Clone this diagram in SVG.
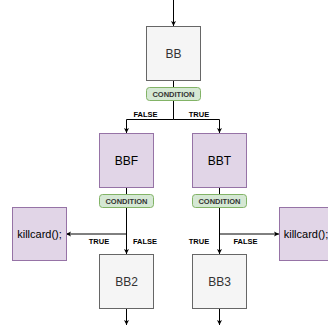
<svg xmlns="http://www.w3.org/2000/svg" width="328" height="325" viewBox="0 0 328 325">
<defs>
<marker id="arr" markerWidth="6" markerHeight="6" refX="5" refY="3" orient="auto" markerUnits="userSpaceOnUse">
<path d="M0,0.5 L5,3 L0,5.5 L1.2,3 Z" fill="#000"/>
</marker>
<style>
.gray{fill:#f5f5f5;stroke:#666666;stroke-width:1}
.purple{fill:#e1d5e7;stroke:#9673a6;stroke-width:1}
.cond{fill:#d5e8d4;stroke:#82b366;stroke-width:1}
.big{font-family:"Liberation Sans",Arial,sans-serif;font-size:12px;text-anchor:middle}
.gtxt{fill:#333333}
.lbl{font-family:"Liberation Sans",Arial,sans-serif;font-size:7.5px;font-weight:bold;text-anchor:middle;fill:#000}
.ctxt{font-family:"Liberation Sans",Arial,sans-serif;font-size:7.5px;font-weight:bold;text-anchor:middle;fill:#333333}
.edge{fill:none;stroke:#000;stroke-width:1}
.arrow{marker-end:url(#arr)}
</style>
</defs>
<g id="connectors">
<path class="edge arrow" d="M173.5,0 L173.5,26"/>
<path class="edge" d="M173.5,80 L173.5,119.5"/>
<path class="edge arrow" d="M173.5,119.5 L126.5,119.5 L126.5,133"/>
<path class="edge arrow" d="M173.5,119.5 L219.5,119.5 L219.5,133"/>
<path class="edge" d="M126.5,187 L126.5,234"/>
<path class="edge arrow" d="M126.5,234 L126.5,254"/>
<path class="edge arrow" d="M126.5,234 L66,234"/>
<path class="edge arrow" d="M126.5,308 L126.5,325"/>
<path class="edge" d="M219.5,187 L219.5,234"/>
<path class="edge arrow" d="M219.5,234 L219.5,254"/>
<path class="edge arrow" d="M219.5,234 L279,234"/>
<path class="edge arrow" d="M219.5,308 L219.5,325"/>
<text class="lbl" x="145.5" y="116.5">FALSE</text>
<text class="lbl" x="199" y="116.5">TRUE</text>
<text class="lbl" x="99" y="243.5">TRUE</text>
<text class="lbl" x="145" y="243.5">FALSE</text>
<text class="lbl" x="199" y="243.5">TRUE</text>
<text class="lbl" x="245.5" y="243.5">FALSE</text>
</g>
<g id="BB">
<rect class="gray" x="146.5" y="26.5" width="54" height="54"/>
<text class="big gtxt" x="173.5" y="58">BB</text>
</g>
<g id="cond0">
<rect class="cond" x="146.5" y="87.5" width="54" height="13" rx="3"/>
<text class="ctxt" x="173.5" y="96.8">CONDITION</text>
</g>
<g id="BBF">
<rect class="purple" x="99.5" y="133.5" width="54" height="54"/>
<text class="big" x="126.5" y="165">BBF</text>
</g>
<g id="cond1">
<rect class="cond" x="99.5" y="194.5" width="54" height="13" rx="3"/>
<text class="ctxt" x="126.5" y="203.8">CONDITION</text>
</g>
<g id="BBT">
<rect class="purple" x="192.5" y="133.5" width="54" height="54"/>
<text class="big" x="219.5" y="165">BBT</text>
</g>
<g id="cond2">
<rect class="cond" x="192.5" y="194.5" width="54" height="13" rx="3"/>
<text class="ctxt" x="219.5" y="203.8">CONDITION</text>
</g>
<g id="killL">
<rect class="purple" x="12.5" y="207.5" width="54" height="53"/>
<text class="big" x="39.5" y="238" style="font-size:11px">killcard();</text>
</g>
<g id="killR">
<rect class="purple" x="279.5" y="207.5" width="54" height="53"/>
<text class="big" x="306" y="238" style="font-size:11px">killcard();</text>
</g>
<g id="BB2">
<rect class="gray" x="99.5" y="254.5" width="54" height="54"/>
<text class="big gtxt" x="126.5" y="286">BB2</text>
</g>
<g id="BB3">
<rect class="gray" x="192.5" y="254.5" width="54" height="54"/>
<text class="big gtxt" x="219.5" y="286">BB3</text>
</g>
</svg>
